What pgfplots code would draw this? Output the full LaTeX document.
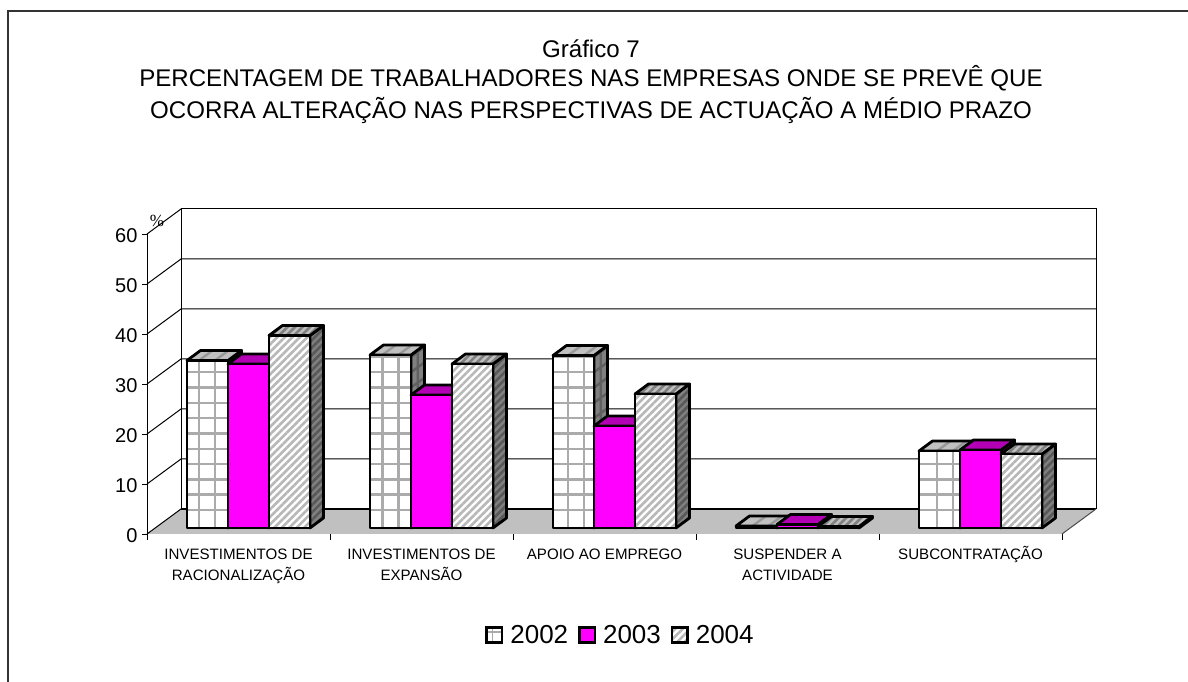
\documentclass[border=0pt]{standalone}
\usepackage{fontspec}
\setmainfont{Liberation Sans}
\newfontfamily\serifa{Liberation Serif}
\usepackage{pgfplots}
\usepackage{pgfplotstable}
\pgfplotsset{compat=1.18}
\usetikzlibrary{patterns.meta}

\definecolor{magbar}{HTML}{FF00FF}
\definecolor{magtop}{HTML}{B400B4}
\definecolor{magside}{HTML}{800080}
\definecolor{floorgray}{HTML}{C0C0C0}
\definecolor{sidegray}{HTML}{808080}
\definecolor{gridgray}{HTML}{ABABAB}
\definecolor{gridtop}{HTML}{989898}
\definecolor{gridside}{HTML}{606060}
\definecolor{stripelight}{HTML}{B8B8B8}

\pgfplotstableread{
g y2002 y2003 y2004
0 33.5 32.8 38.5
1 34.6 26.6 32.8
2 34.5 20.4 26.8
3 0.4 0.7 0.3
4 15.4 15.6 14.8
}\chartdata

\tikzset{
  edge/.style={draw=black,line width=2.8pt,line join=round,fill=none},
  f2002/.style={draw=none,fill=white},
  t2002/.style={draw=none,fill=floorgray},
  s2002/.style={draw=none,fill=sidegray},
  f2003/.style={draw=none,fill=magbar},
  t2003/.style={draw=none,fill=magtop},
  s2003/.style={draw=none,fill=magside},
  f2004/.style={draw=none,fill=white,postaction={pattern={Lines[angle=45,distance=5.3pt,line width=2.6pt]},pattern color=stripelight}},
  t2004/.style={draw=none,fill=floorgray,postaction={pattern={Lines[angle=45,distance=5.3pt,line width=2.6pt]},pattern color=sidegray}},
  s2004/.style={draw=none,fill=sidegray,postaction={pattern={Lines[angle=45,distance=5.3pt,line width=2.6pt]},pattern color=black!65}},
}

% the check pattern of the 2002 bars: group index
\newcommand\drawgrid[1]{%
  \pgfmathsetmacro\gridoff{{12,12.3,15,16.5,18}[#1]/183}%
  \pgfmathsetmacro\va{\xa+\gridoff}%
  \pgfmathsetmacro\vb{\va+16/183}%
  \pgfmathsetmacro\vc{\va+0.0738}%
  \pgfmathsetmacro\vd{\vb+0.0738}%
  \pgfmathsetmacro\sm{\xb+0.0369}%
  \gdef\hfront{}\gdef\hside{}%
  \pgfmathtruncatemacro\nl{\val>=3.6 ? floor((\val-3.6)/3.06) : -1}%
  \ifnum\nl>-1
    \pgfplotsforeachungrouped \k in {0,...,\nl}{%
      \pgfmathsetmacro\yk{1.2+3.6+3.06*\k}%
      \pgfmathsetmacro\ykk{\yk+2.0}%
      \xdef\hfront{\hfront (\xa,\yk)(\xb,\yk)(nan,nan)}%
      \xdef\hside{\hside (\xb,\yk)(\xc,\ykk)(nan,nan)}%
    }%
  \fi
  \pgfmathsetmacro\smb{\yb+1.0}%
  \pgfmathsetmacro\smt{\yt+1.0}%
}

% group index, series index (0,1,2), year
\newcommand\drawbar[3]{%
  \pgfplotstablegetelem{#1}{y#3}\of\chartdata
  \let\val\pgfplotsretval
  \pgfmathsetmacro\xa{#1+0.2186+#2*0.2240}%
  \pgfmathsetmacro\xb{\xa+0.2240}%
  \pgfmathsetmacro\xc{\xb+0.0738}%
  \pgfmathsetmacro\xd{\xa+0.0738}%
  \pgfmathsetmacro\yb{1.2}%
  \pgfmathsetmacro\yt{1.2+\val}%
  \pgfmathsetmacro\ytt{\yt+2.0}%
  \pgfmathsetmacro\ybb{\yb+2.0}%
  \edef\tmp{%
    \noexpand\addplot[s#3,forget plot] coordinates {(\xb,\yb)(\xc,\ybb)(\xc,\ytt)(\xb,\yt)} --cycle;
  }\tmp
  \ifnum#2=0
    \drawgrid{#1}%
    \edef\tmp{%
      \noexpand\addplot[gridline,gridside] coordinates {\hside (\sm,\smb)(\sm,\smt)};
    }\tmp
  \fi
  \edef\tmp{%
    \noexpand\addplot[edge,forget plot] coordinates {(\xb,\yb)(\xc,\ybb)(\xc,\ytt)(\xb,\yt)} --cycle;
    \noexpand\addplot[t#3,forget plot] coordinates {(\xa,\yt)(\xb,\yt)(\xc,\ytt)(\xd,\ytt)} --cycle;
  }\tmp
  \ifnum#2=0
    \edef\tmp{%
      \noexpand\addplot[gridline,gridtop] coordinates {(\va,\yt)(\vc,\ytt)(nan,nan)(\vb,\yt)(\vd,\ytt)};
    }\tmp
  \fi
  \edef\tmp{%
    \noexpand\addplot[edge,forget plot] coordinates {(\xa,\yt)(\xb,\yt)(\xc,\ytt)(\xd,\ytt)} --cycle;
    \noexpand\addplot[f#3,forget plot] coordinates {(\xa,\yb)(\xb,\yb)(\xb,\yt)(\xa,\yt)} --cycle;
  }\tmp
  \ifnum#2=0
    \edef\tmp{%
      \noexpand\addplot[gridline,gridgray] coordinates {\hfront (\va,\yb)(\va,\yt)(nan,nan)(\vb,\yb)(\vb,\yt)};
    }\tmp
  \fi
  \edef\tmp{%
    \noexpand\addplot[edge,forget plot] coordinates {(\xa,\yb)(\xb,\yb)(\xb,\yt)(\xa,\yt)} --cycle;
  }\tmp
}

\begin{document}
\begin{tikzpicture}[x=1pt,y=1pt]
\path[use as bounding box] (0,0) rectangle (1188,682);
\draw[line width=1.6pt,color=black!80] (8,0) -- (8,671) -- (1188,671);
\begin{axis}[
  gridline/.style={line width=2.4pt,forget plot},
  unbounded coords=jump,
  at={(147pt,148pt)}, anchor=south west,
  scale only axis, width=915pt, height=300pt,
  xmin=0, xmax=5, ymin=0, ymax=60,
  clip=false,
  axis y line=left, axis x line=bottom,
  axis line style={-,line width=1pt,black},
  ytick={0,10,...,60},
  xtick={0.5,1.5,2.5,3.5,4.5},
  minor xtick={0,1,2,3,4,5},
  xticklabels={{\rule{0pt}{15pt}INVESTIMENTOS DE\\RACIONALIZAÇÃO},{\rule{0pt}{15pt}INVESTIMENTOS DE\\EXPANSÃO},{\rule{0pt}{15pt}APOIO AO EMPREGO},{\rule{0pt}{15pt}SUSPENDER A\\ACTIVIDADE},{\rule{0pt}{15pt}SUBCONTRATAÇÃO}},
  tick align=outside,
  major tick length=5pt, minor tick length=6pt,
  tick style={black,line width=0.9pt},
  major x tick style={draw=none},
  x tick label style={font=\fontsize{15.1}{21}\selectfont,align=center,anchor=north,yshift=-2pt},
  y tick label style={font=\fontsize{20}{24}\selectfont,xshift=-1pt,yshift=-1.5pt},
  /pgf/number format/assume math mode=true,
  legend columns=3,
  legend style={at={(0.517,-0.337)},anchor=center,draw=none,fill=none,
    font=\fontsize{26}{30}\selectfont,
    /tikz/every even column/.append style={column sep=9pt},
    /tikz/every odd column/.append style={column sep=6pt},
    nodes={inner sep=1pt}},
]
% back wall and floor
\addplot[fill=white,draw=black,line width=1pt,forget plot] coordinates {(0.1858,5)(5.1858,5)(5.1858,65)(0.1858,65)} --cycle;
\addplot[draw=none,fill=floorgray,forget plot] coordinates {(0,0)(5,0)(5.1858,5)(0.1858,5)} --cycle;
\addplot[black,line width=1.6pt,forget plot] coordinates {(0.1858,5)(5.1858,5)};
\addplot[black!70,line width=1pt,forget plot] coordinates {(5,0)(5.1858,5)};
\addplot[black,line width=1pt,forget plot] coordinates {(0,0)(0.1858,5)};
\addplot[black,line width=1pt,forget plot] coordinates {(0,10)(0.1858,15)(5.1858,15)};
\addplot[black,line width=1pt,forget plot] coordinates {(0,20)(0.1858,25)(5.1858,25)};
\addplot[black,line width=1pt,forget plot] coordinates {(0,30)(0.1858,35)(5.1858,35)};
\addplot[black,line width=1pt,forget plot] coordinates {(0,40)(0.1858,45)(5.1858,45)};
\addplot[black,line width=1pt,forget plot] coordinates {(0,50)(0.1858,55)(5.1858,55)};
\addplot[black,line width=1pt,forget plot] coordinates {(0,60)(0.1858,65)};
% bars
\pgfplotsinvokeforeach{0,1,2,3,4}{%
  \drawbar{#1}{0}{2002}
  \drawbar{#1}{1}{2003}
  \drawbar{#1}{2}{2004}
}
% legend
\addlegendimage{legend image code/.code={
  \draw[black,line width=2.4pt,fill=white] (0pt,-7.5pt) rectangle (15.5pt,7.5pt);
  \draw[gridgray,line width=1.4pt] (6pt,-7pt) -- (6pt,7pt) (1pt,3pt) -- (15pt,3pt);
  \draw[black,line width=2.4pt] (0pt,-7.5pt) rectangle (15.5pt,7.5pt);}}
\addlegendentry{2002}
\addlegendimage{legend image code/.code={
  \draw[black,line width=2.4pt,fill=magbar] (0pt,-7.5pt) rectangle (15.5pt,7.5pt);}}
\addlegendentry{2003}
\addlegendimage{legend image code/.code={
  \draw[black,line width=2.4pt,fill=white,postaction={pattern={Lines[angle=45,distance=5.3pt,line width=2.6pt]},pattern color=stripelight}] (0pt,-7.5pt) rectangle (15.5pt,7.5pt);}}
\addlegendentry{2004}
\end{axis}
\node[font=\fontsize{24.1}{28}\selectfont,anchor=center] at (591,633) {Gráfico 7};
\node[font=\fontsize{24.1}{28}\selectfont,anchor=center] at (591,604) {PERCENTAGEM DE TRABALHADORES NAS EMPRESAS ONDE SE PREVÊ QUE};
\node[font=\fontsize{24.1}{28}\selectfont,anchor=center] at (591,572) {OCORRA ALTERAÇÃO NAS PERSPECTIVAS DE ACTUAÇÃO A MÉDIO PRAZO};
\node[font=\serifa\fontsize{17}{19}\selectfont,anchor=center] at (157,461) {\%};
\end{tikzpicture}
\end{document}
